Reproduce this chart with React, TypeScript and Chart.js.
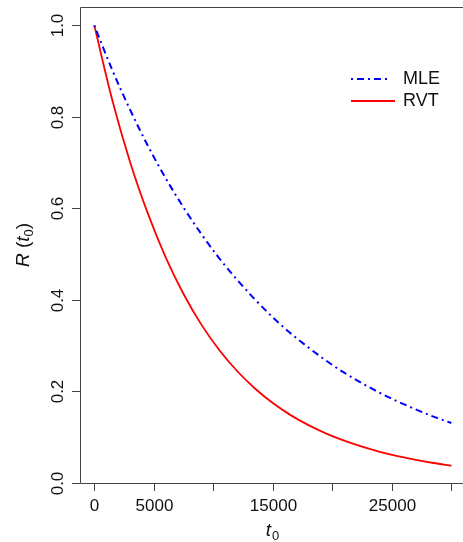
import React, { useEffect, useRef } from "react";
import { Chart, registerables } from "chart.js";

Chart.register(...registerables);

const T = [0, 1500, 3000, 4500, 6000, 7500, 9000, 10500, 12000, 13500, 15000, 16500, 18000, 19500, 21000, 22500, 24000, 25500, 27000, 28500, 30000];
const MLE = [1.0, 0.903, 0.816, 0.737, 0.666, 0.602, 0.544, 0.491, 0.444, 0.401, 0.362, 0.327, 0.296, 0.267, 0.241, 0.218, 0.197, 0.178, 0.161, 0.145, 0.131];
const RVT = [1.0, 0.838, 0.702, 0.589, 0.493, 0.413, 0.346, 0.2906, 0.2447, 0.2065, 0.1747, 0.1483, 0.1264, 0.1079, 0.0924, 0.0793, 0.0682, 0.0587, 0.0506, 0.0437, 0.0377];
const X_TICKS = [0, 5000, 10000, 15000, 20000, 25000, 30000];
const X_TICK_LABELS = ["0", "5000", "", "15000", "", "25000", ""];
const Y_TICKS = [0, 0.2, 0.4, 0.6, 0.8, 1.0];
const Y_TICK_LABELS = ["0.0", "0.2", "0.4", "0.6", "0.8", "1.0"];
const SERIES_NAMES = ["MLE", "RVT"];

const FONT = "'Liberation Sans', Arial, sans-serif";
const AXIS = "#444444";
const TEXT = "#111111";
const BLUE = "#0000ff";
const RED = "#ff0000";
const DASH = [2, 4, 7, 4];

const axesPlugin = {
  id: "rAxes",
  afterDraw(chart: any) {
    const { ctx, chartArea: a, scales } = chart;
    const x = scales.x;
    const y = scales.y;
    ctx.save();
    ctx.strokeStyle = AXIS;
    ctx.lineWidth = 1;
    ctx.beginPath();
    ctx.moveTo(a.right + 10, a.top + 0.5);
    ctx.lineTo(a.left + 0.5, a.top + 0.5);
    ctx.lineTo(a.left + 0.5, a.bottom + 0.5);
    ctx.lineTo(a.right + 10, a.bottom + 0.5);
    ctx.stroke();

    ctx.fillStyle = TEXT;
    ctx.font = `17px ${FONT}`;
    ctx.textAlign = "center";
    ctx.textBaseline = "middle";
    X_TICKS.forEach((v, i) => {
      const px = Math.round(x.getPixelForValue(v)) + 0.5;
      ctx.beginPath();
      ctx.moveTo(px, a.bottom);
      ctx.lineTo(px, a.bottom + 8);
      ctx.stroke();
      if (X_TICK_LABELS[i]) ctx.fillText(X_TICK_LABELS[i], px, 506);
    });

    Y_TICKS.forEach((v, i) => {
      const py = Math.round(y.getPixelForValue(v)) + 0.5;
      ctx.beginPath();
      ctx.moveTo(a.left - 8, py);
      ctx.lineTo(a.left, py);
      ctx.stroke();
      ctx.save();
      ctx.translate(58, py);
      ctx.rotate(-Math.PI / 2);
      ctx.fillText(Y_TICK_LABELS[i], 0, 0);
      ctx.restore();
    });

    // x axis title: t0
    {
      ctx.font = `italic 19px ${FONT}`;
      const wT = ctx.measureText("t").width;
      ctx.font = `13px ${FONT}`;
      const w0 = ctx.measureText("0").width;
      const total = wT + w0 + 1;
      const cx = (a.left + a.right + 3) / 2;
      const sx = cx - total / 2;
      ctx.textAlign = "left";
      ctx.textBaseline = "alphabetic";
      ctx.font = `italic 19px ${FONT}`;
      ctx.fillText("t", sx, 536);
      ctx.font = `13px ${FONT}`;
      ctx.fillText("0", sx + wT + 1, 540);
    }

    // y axis title: R (t0)
    {
      ctx.save();
      ctx.translate(29, (a.top + a.bottom) / 2);
      ctx.rotate(-Math.PI / 2);
      ctx.textAlign = "left";
      ctx.textBaseline = "alphabetic";
      const parts: [string, string, number][] = [
        ["R", `italic 19px ${FONT}`, 0],
        [" (", `19px ${FONT}`, 0],
        ["t", `italic 19px ${FONT}`, 0],
        ["0", `13px ${FONT}`, 4],
        [")", `19px ${FONT}`, 0],
      ];
      let total = 0;
      parts.forEach(([s, f]) => {
        ctx.font = f;
        total += ctx.measureText(s).width;
      });
      let sx = -total / 2;
      parts.forEach(([s, f, dy]) => {
        ctx.font = f;
        ctx.fillText(s, sx, dy);
        sx += ctx.measureText(s).width;
      });
      ctx.restore();
    }

    // legend
    ctx.lineWidth = 2;
    ctx.strokeStyle = BLUE;
    ctx.setLineDash(DASH);
    ctx.beginPath();
    ctx.moveTo(351, 79);
    ctx.lineTo(391, 79);
    ctx.stroke();
    ctx.setLineDash([]);
    ctx.strokeStyle = RED;
    ctx.lineWidth = 1.8;
    ctx.beginPath();
    ctx.moveTo(351, 101);
    ctx.lineTo(395, 101);
    ctx.stroke();
    ctx.fillStyle = TEXT;
    ctx.font = `18px ${FONT}`;
    ctx.textAlign = "left";
    ctx.textBaseline = "middle";
    ctx.fillText(SERIES_NAMES[0], 403, 79);
    ctx.fillText(SERIES_NAMES[1], 403, 101);
    ctx.restore();
  },
};

export default function App() {
  const ref = useRef<HTMLCanvasElement | null>(null);
  useEffect(() => {
    if (!ref.current) return;
    const chart = new Chart(ref.current, {
      type: "line",
      data: {
        datasets: [
          {
            label: SERIES_NAMES[0],
            data: T.map((t, i) => ({ x: t, y: MLE[i] })),
            borderColor: BLUE,
            borderWidth: 2,
            borderDash: DASH,
            pointRadius: 0,
            fill: false,
            cubicInterpolationMode: "monotone",
          },
          {
            label: SERIES_NAMES[1],
            data: T.map((t, i) => ({ x: t, y: RVT[i] })),
            borderColor: RED,
            borderWidth: 1.8,
            pointRadius: 0,
            fill: false,
            cubicInterpolationMode: "monotone",
          },
        ],
      },
      options: {
        animation: false,
        responsive: false,
        maintainAspectRatio: false,
        layout: { padding: { left: 80, top: 7, right: 1, bottom: 59 } },
        plugins: { legend: { display: false }, tooltip: { enabled: false } },
        scales: {
          x: { type: "linear", min: -1200, max: 30900, display: false },
          y: { type: "linear", min: 0, max: 1.04, display: false },
        },
      },
      plugins: [axesPlugin],
    });
    return () => chart.destroy();
  }, []);
  return (
    <canvas
      ref={ref}
      width={463}
      height={542}
      style={{ position: "fixed", left: 0, top: 0, width: 463, height: 542, background: "#fff" }}
    />
  );
}
